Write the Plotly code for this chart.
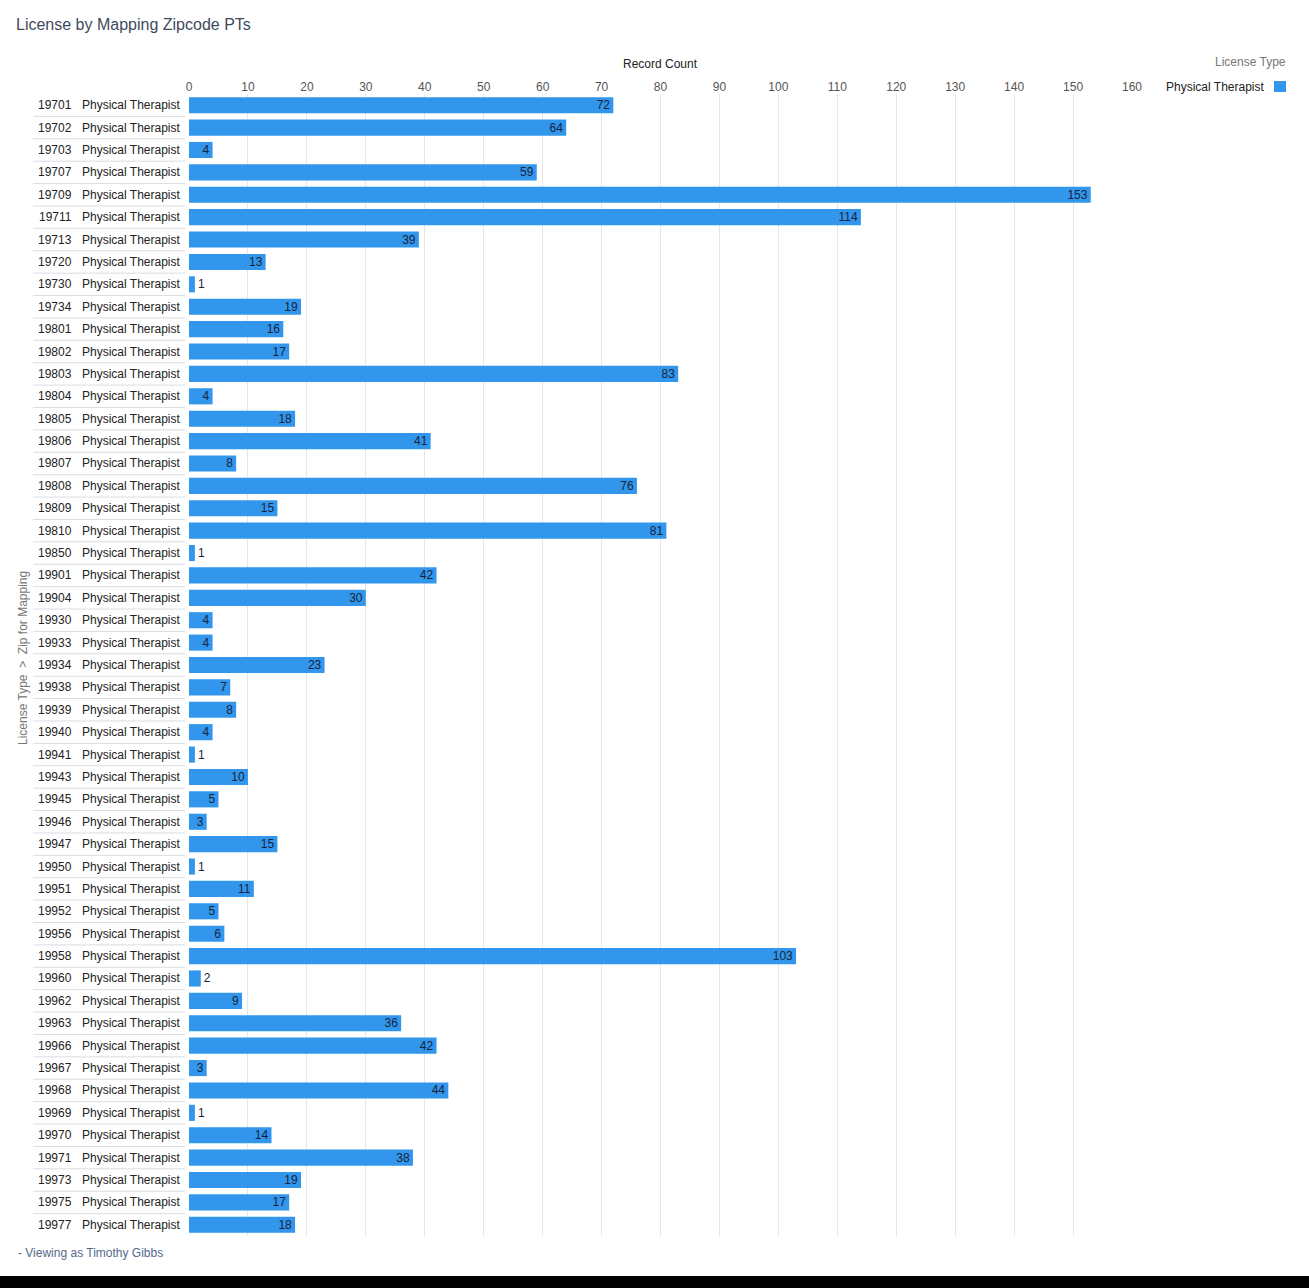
import plotly.graph_objects as go

zips = ["19701","19702","19703","19707","19709","19711","19713","19720","19730","19734",
        "19801","19802","19803","19804","19805","19806","19807","19808","19809","19810",
        "19850","19901","19904","19930","19933","19934","19938","19939","19940","19941",
        "19943","19945","19946","19947","19950","19951","19952","19956","19958","19960",
        "19962","19963","19966","19967","19968","19969","19970","19971","19973","19975","19977"]
counts = [72,64,4,59,153,114,39,13,1,19,
          16,17,83,4,18,41,8,76,15,81,
          1,42,30,4,4,23,7,8,4,1,
          10,5,3,15,1,11,5,6,103,2,
          9,36,42,3,44,1,14,38,19,17,18]
license_type = "Physical Therapist"
x_ticks = list(range(0, 161, 10))

W, H = 1309, 1288
L, R, T, B = 189, 1132, 94, 1236

def px(x):
    return (x - L) / (R - L)

def py(y):
    return (B - y) / (B - T)

FONT = "Liberation Sans, Arial, sans-serif"
BLUE = "#3296ed"
LABEL = "#222222"
BAR_TEXT = "#16243a"

positions = ["inside" if v >= 3 else "outside" for v in counts]

fig = go.Figure(go.Bar(
    x=counts, y=zips, orientation="h",
    marker=dict(color=BLUE, line=dict(width=0)),
    text=[str(v) for v in counts], textposition=positions,
    insidetextanchor="end", textangle=0,
    insidetextfont=dict(color=BAR_TEXT, size=12, family=FONT),
    outsidetextfont=dict(color=BAR_TEXT, size=12, family=FONT),
    constraintext="none", cliponaxis=False,
    showlegend=False, hoverinfo="x+y",
))

annotations = []
shapes = []
for i, z in enumerate(zips):
    annotations.append(dict(x=px(74), y=i, xref="paper", yref="y", text=z, showarrow=False,
                            xanchor="right", yanchor="middle",
                            font=dict(size=12, color=LABEL, family=FONT)))
    annotations.append(dict(x=px(182), y=i, xref="paper", yref="y", text=license_type, showarrow=False,
                            xanchor="right", yanchor="middle",
                            font=dict(size=12, color=LABEL, family=FONT)))
    if i < len(zips) - 1:
        shapes.append(dict(type="line", xref="paper", yref="y", x0=px(33), x1=px(185),
                           y0=i + 0.5, y1=i + 0.5, line=dict(color="#d8dde6", width=1)))

# axis titles
annotations.append(dict(x=0.5, y=py(64), xref="paper", yref="paper", text="Record Count",
                        showarrow=False, xanchor="center", yanchor="middle",
                        font=dict(size=12, color=LABEL, family=FONT)))
annotations.append(dict(x=px(23), y=py(658), xref="paper", yref="paper",
                        text="License Type  &gt;  Zip for Mapping", textangle=-90,
                        showarrow=False, xanchor="center", yanchor="middle",
                        font=dict(size=12, color="#777777", family=FONT)))
# legend
annotations.append(dict(x=px(1288), y=py(62), xref="paper", yref="paper", text="License Type",
                        showarrow=False, xanchor="right", yanchor="middle",
                        font=dict(size=12, color="#777777", family=FONT)))
annotations.append(dict(x=px(1266), y=py(87), xref="paper", yref="paper", text=license_type,
                        showarrow=False, xanchor="right", yanchor="middle",
                        font=dict(size=12, color=LABEL, family=FONT)))
shapes.append(dict(type="rect", xref="paper", yref="paper", x0=px(1274), x1=px(1286),
                   y0=py(92), y1=py(81), fillcolor=BLUE, line=dict(width=0)))
# footer
annotations.append(dict(x=px(16), y=py(1253), xref="paper", yref="paper",
                        text="- Viewing as Timothy Gibbs", showarrow=False,
                        xanchor="left", yanchor="middle",
                        font=dict(size=12, color="#54698d", family=FONT)))
# bottom dark band
shapes.append(dict(type="rect", xref="paper", yref="paper", x0=px(0), x1=px(W),
                   y0=py(H + 2), y1=py(1276), fillcolor="#000000", line=dict(width=0), layer="above"))

fig.update_layout(
    width=W, height=H,
    margin=dict(l=L, r=W - R, t=T, b=H - B, pad=0),
    paper_bgcolor="white", plot_bgcolor="white",
    bargap=0.28,
    font=dict(family=FONT, size=12, color=LABEL),
    title=dict(text="License by Mapping Zipcode PTs", x=16 / W, xref="container", xanchor="left",
               y=1 - 24 / H, yref="container", yanchor="middle",
               font=dict(size=16, color="#3e4a5c", family=FONT)),
    xaxis=dict(side="top", range=[0, 160], tickvals=x_ticks, showgrid=True, gridcolor="#e6e6e6",
               zeroline=False, showline=False, ticks="", tickfont=dict(size=12, color="#555555"),
               fixedrange=True),
    yaxis=dict(type="category", categoryorder="array", categoryarray=zips, autorange="reversed",
               showticklabels=False, showgrid=False, zeroline=False, ticks=""),
    annotations=annotations, shapes=shapes,
)

fig.write_html("out.html", config={"displayModeBar": False},
               post_script="document.body.style.margin='0';document.body.style.overflow='hidden';")
